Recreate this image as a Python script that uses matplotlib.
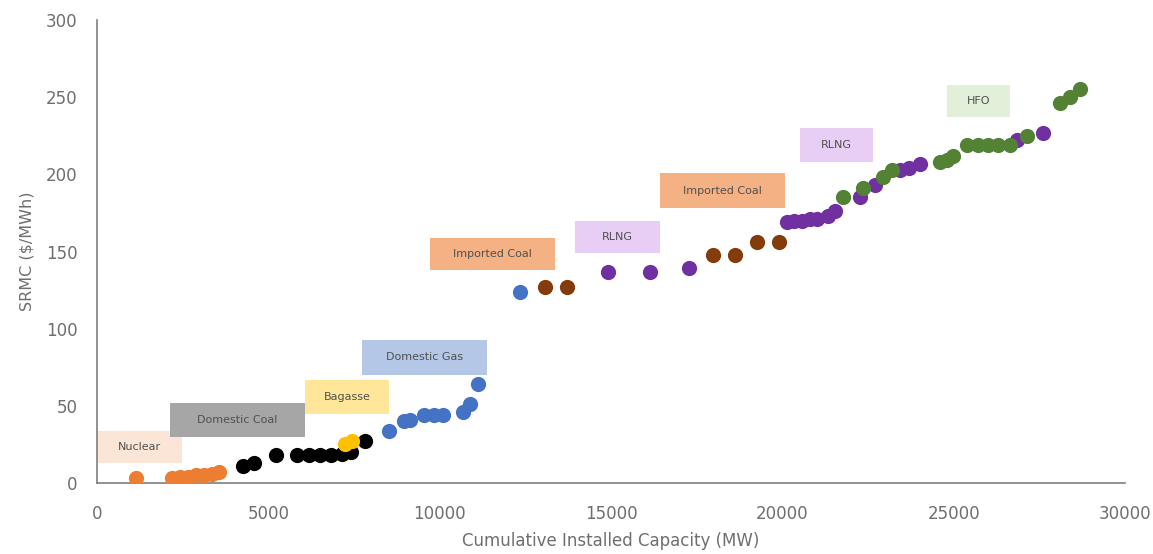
import matplotlib.pyplot as plt

# capacity (MW) and SRMC ($/MWh)
nuclear_x = [1140, 2190, 2420, 2650, 2890, 3120, 3350, 3560]
nuclear_y = [3, 3, 4, 4, 5, 5, 6, 7]

coal_x = [4260, 4580, 5220, 5840, 6190, 6510, 6830, 7150, 7400, 7820]
coal_y = [11, 13, 18, 18, 18, 18, 18, 19, 20, 27]

bagasse_x = [7240, 7440]
bagasse_y = [25, 27]

gas_x = [8520, 8960, 9130, 9540, 9830, 10100, 10680, 10880, 11120, 12340]
gas_y = [34, 40, 41, 44, 44, 44, 46, 51, 64, 124]

imp_coal_x = [13070, 13710, 17970, 18620, 19260, 19900]
imp_coal_y = [127, 127, 148, 148, 156, 156]

rlng_x = [14910, 16140, 17270, 20130, 20350, 20570, 20800, 21000, 21330, 21550,
          22270, 22700, 23430, 23700, 24020, 26850, 27600]
rlng_y = [137, 137, 139, 169, 170, 170, 171, 171, 173, 176,
          185, 193, 203, 204, 207, 222, 227]

hfo_x = [21770, 22350, 22940, 23200, 24600, 24800, 24980, 25390, 25700, 26000,
         26300, 26640, 27140, 28100, 28400, 28700]
hfo_y = [185, 191, 198, 203, 208, 209, 212, 219, 219, 219,
         219, 219, 225, 246, 250, 255]

# fuel label boxes: text, x-left, x-right, y-bottom, y-top
box_text = ["Nuclear", "Domestic Coal", "Bagasse", "Domestic Gas", "Imported Coal",
            "RLNG", "Imported Coal", "RLNG", "HFO"]
box_x0 = [0, 2130, 6070, 7730, 9720, 13950, 16430, 20510, 24800]
box_x1 = [2480, 6070, 8520, 11380, 13360, 16430, 20080, 22640, 26640]
box_y0 = [13, 30, 45, 70, 138, 149, 178, 208, 237]
box_y1 = [34, 52, 67, 93, 159, 170, 201, 230, 258]
box_col = ["#FBE5D6", "#A6A6A6", "#FFE699", "#B4C7E7", "#F4B183",
           "#E8CDF5", "#F4B183", "#E8CDF5", "#E2F0D9"]

plt.rcParams['font.family'] = ['DejaVu Sans']

fig = plt.figure(figsize=(11.53, 5.54), dpi=100)
ax = fig.add_axes([0.0841, 0.128, 0.8916, 0.836])

for i in range(len(box_text)):
    ax.fill_between([box_x0[i], box_x1[i]], box_y0[i], box_y1[i],
                    color=box_col[i], linewidth=0, zorder=1)
    ax.text((box_x0[i] + box_x1[i]) / 2, (box_y0[i] + box_y1[i]) / 2, box_text[i],
            ha="center", va="center", fontsize=8, color="#505050", zorder=2)

size = 120
ax.scatter(nuclear_x, nuclear_y, s=size, color="#ED7D31", zorder=3, linewidths=0)
ax.scatter(coal_x, coal_y, s=size, color="#000000", zorder=3, linewidths=0)
ax.scatter(bagasse_x, bagasse_y, s=size, color="#FFC000", zorder=4, linewidths=0)
ax.scatter(gas_x, gas_y, s=size, color="#4472C4", zorder=3, linewidths=0)
ax.scatter(imp_coal_x, imp_coal_y, s=size, color="#843C0C", zorder=3, linewidths=0)
ax.scatter(rlng_x, rlng_y, s=size, color="#7030A0", zorder=3, linewidths=0)
ax.scatter(hfo_x, hfo_y, s=size, color="#548235", zorder=4, linewidths=0)

ax.set_xlim(0, 30000)
ax.set_ylim(0, 300)
ax.set_xticks(range(0, 30001, 5000))
ax.set_yticks(range(0, 301, 50))
ax.tick_params(length=0, labelsize=12, labelcolor="#6E6E6E")
ax.tick_params(axis="y", pad=14)
ax.tick_params(axis="x", pad=16)
for side in ["top", "right"]:
    ax.spines[side].set_visible(False)
for side in ["left", "bottom"]:
    ax.spines[side].set_color("#7F7F7F")
    ax.spines[side].set_linewidth(1.2)

ax.set_xlabel("Cumulative Installed Capacity (MW)", fontsize=12, color="#6E6E6E", labelpad=6)
ax.set_ylabel("SRMC ($/MWh)", fontsize=11.5, color="#6E6E6E", labelpad=8)

fig.savefig("out.png", dpi=100)
